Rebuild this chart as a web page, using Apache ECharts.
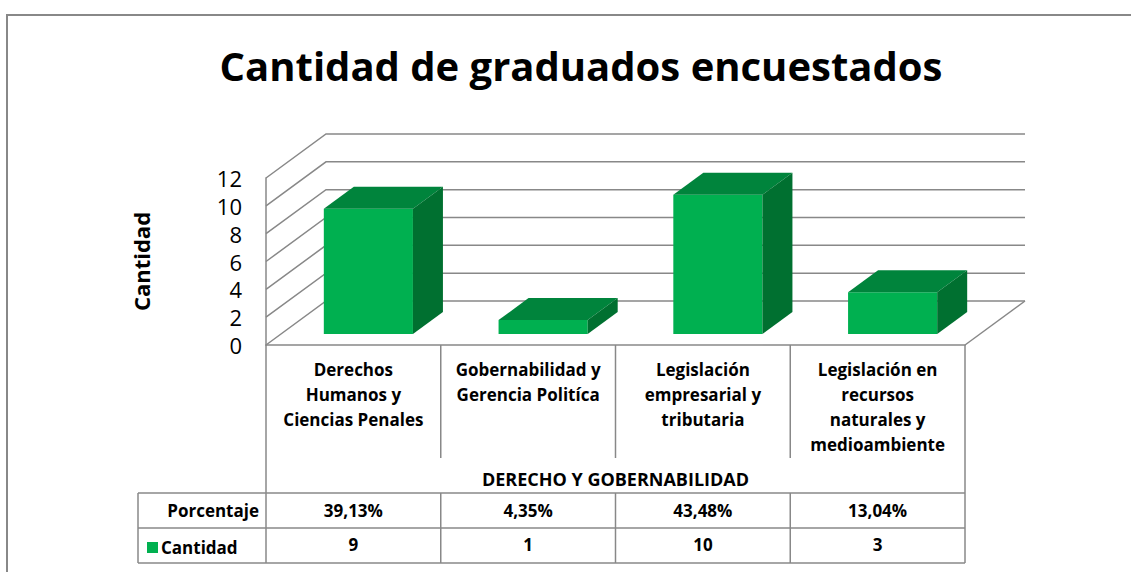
<!DOCTYPE html>
<html>
<head>
<meta charset="utf-8">
<script src="https://cdn.jsdelivr.net/npm/echarts@6/dist/echarts.min.js"></script>
<style>
  html, body { margin: 0; padding: 0; background: #fff; }
  #main { width: 1131px; height: 572px; }
</style>
</head>
<body>
<div id="main"></div>
<script>
// datos
var categories = [
  'Derechos\nHumanos y\nCiencias Penales',
  'Gobernabilidad y\nGerencia Politíca',
  'Legislación\nempresarial y\ntributaria',
  'Legislación en\nrecursos\nnaturales y\nmedioambiente'
];
var cantidad = [9, 1, 10, 3];
var porcentaje = ['39,13%', '4,35%', '43,48%', '13,04%'];
var yTicks = [0, 2, 4, 6, 8, 10, 12];

// layout del grafico 3D (Excel)
var GRID_L = 266, GRID_R = 965, GRID_T = 178, GRID_B = 345;
var DX = 60, DY = -44;          // profundidad
var LINE = '#888888';
var FONT = '"Open Sans"';

var chart = echarts.init(document.getElementById('main'), null, { renderer: 'svg' });

var colW = (GRID_R - GRID_L) / categories.length;
var tableTop = 493, rowH = 35, tableLeft = 138;

// lineas de la tabla de datos
var tableLines = [];
function hline(x1, x2, y) {
  tableLines.push({ type: 'line', shape: { x1: x1, y1: y, x2: x2, y2: y }, style: { stroke: LINE, lineWidth: 1.5 } });
}
function vline(x, y1, y2) {
  tableLines.push({ type: 'line', shape: { x1: x, y1: y1, x2: x, y2: y2 }, style: { stroke: LINE, lineWidth: 1.5 } });
}
hline(tableLeft, GRID_R, tableTop);
hline(tableLeft, GRID_R, tableTop + rowH);
hline(tableLeft, GRID_R, tableTop + rowH * 2);
vline(tableLeft, tableTop, tableTop + rowH * 2);
for (var i = 0; i <= categories.length; i++) {
  var x = GRID_L + colW * i;
  if (i === 0 || i === categories.length) {
    vline(x, GRID_B, tableTop + rowH * 2);
  } else {
    vline(x, GRID_B, 458);
    vline(x, tableTop, tableTop + rowH * 2);
  }
}
// marco exterior
tableLines.push({ type: 'polyline', shape: { points: [[7, 572], [7, 15], [1131, 15]] }, style: { stroke: LINE, lineWidth: 2, fill: null } });

var boldTxt = { fontFamily: FONT, fontSize: 17, fontWeight: 700, color: '#000' };

var option = {
  animation: false,
  title: {
    text: 'Cantidad de graduados encuestados',
    left: 576,
    textAlign: 'center',
    top: 40,
    textStyle: { fontFamily: FONT, fontSize: 40, fontWeight: 700, color: '#000' }
  },
  legend: {
    data: ['Cantidad'],
    left: 142,
    top: 534,
    icon: 'rect',
    itemWidth: 11,
    itemHeight: 11,
    selectedMode: false,
    textStyle: { fontFamily: FONT, fontSize: 17, fontWeight: 700, color: '#000', padding: [0, 0, 0, -2] }
  },
  grid: { left: GRID_L, right: 1131 - GRID_R, top: GRID_T, bottom: 572 - GRID_B },
  xAxis: [
    {
      type: 'category',
      data: categories,
      axisLine: { show: true, lineStyle: { color: LINE, width: 1.5 } },
      axisTick: { show: false },
      axisLabel: Object.assign({ interval: 0, margin: 12, verticalAlign: 'top', lineHeight: 25 }, boldTxt),
      name: 'DERECHO Y GOBERNABILIDAD',
      nameLocation: 'middle',
      nameGap: 125,
      nameTextStyle: Object.assign({}, boldTxt, { fontSize: 18 })
    },
    {
      type: 'category',
      data: categories,
      position: 'bottom',
      offset: 165,
      axisLine: { show: false },
      axisTick: { show: false },
      axisLabel: Object.assign({
        interval: 0, margin: 0, verticalAlign: 'middle',
        formatter: function (v, idx) { return porcentaje[idx]; }
      }, boldTxt),
      name: 'Porcentaje',
      nameLocation: 'start',
      nameGap: 7,
      nameTextStyle: Object.assign({ verticalAlign: 'middle' }, boldTxt)
    },
    {
      type: 'category',
      data: categories,
      position: 'bottom',
      offset: 199,
      axisLine: { show: false },
      axisTick: { show: false },
      axisLabel: Object.assign({
        interval: 0, margin: 0, verticalAlign: 'middle',
        formatter: function (v, idx) { return String(cantidad[idx]); }
      }, boldTxt)
    }
  ],
  yAxis: {
    type: 'value',
    min: 0,
    max: 12,
    interval: 2,
    axisLine: { show: true, lineStyle: { color: LINE, width: 1.5 } },
    axisTick: { show: false },
    splitLine: { show: false },
    axisLabel: { margin: 24, fontFamily: FONT, fontSize: 22, color: '#000' },
    name: 'Cantidad',
    nameLocation: 'middle',
    nameGap: 114,
    nameTextStyle: { fontFamily: FONT, fontSize: 22, fontWeight: 700, color: '#000' }
  },
  series: [
    {
      // paredes y lineas de division 3D
      type: 'custom',
      name: 'walls',
      silent: true,
      z: 1,
      data: yTicks.map(function (t) { return [0, t]; }),
      renderItem: function (params, api) {
        var cs = params.coordSys;
        var y = api.coord([0, api.value(1)])[1];
        var x0 = cs.x, x1 = cs.x + cs.width;
        var children = [{
          type: 'polyline',
          shape: { points: [[x0, y], [x0 + DX, y + DY], [x1 + DX, y + DY]] },
          style: { stroke: LINE, lineWidth: 1.5, fill: null }
        }];
        if (api.value(1) === 0) {
          children.push({
            type: 'line',
            shape: { x1: x1, y1: y, x2: x1 + DX, y2: y + DY },
            style: { stroke: LINE, lineWidth: 1.5 }
          });
        }
        return { type: 'group', children: children };
      }
    },
    {
      type: 'custom',
      name: 'Cantidad',
      z: 5,
      itemStyle: { color: '#00B050' },
      data: cantidad.map(function (v, i) { return [i, v]; }),
      renderItem: function (params, api) {
        var top = api.coord([api.value(0), api.value(1)]);
        var base = api.coord([api.value(0), 0]);
        var w = api.size([1, 0])[0] * 0.51;
        var fx = DX * 0.25, fy = DY * 0.25;
        var bx = DX * 0.5, by = DY * 0.5;
        var l = top[0] - w / 2 + fx, r = top[0] + w / 2 + fx;
        var t = top[1] + fy, b = base[1] + fy;
        return {
          type: 'group',
          children: [
            { type: 'rect', shape: { x: l, y: t, width: r - l, height: b - t }, style: { fill: '#00B050' } },
            { type: 'polygon', shape: { points: [[l, t], [r, t], [r + bx, t + by], [l + bx, t + by]] }, style: { fill: '#00843C' } },
            { type: 'polygon', shape: { points: [[r, t], [r + bx, t + by], [r + bx, b + by], [r, b]] }, style: { fill: '#007030' } }
          ]
        };
      }
    }
  ],
  graphic: tableLines
};

chart.setOption(option);
</script>
</body>
</html>
